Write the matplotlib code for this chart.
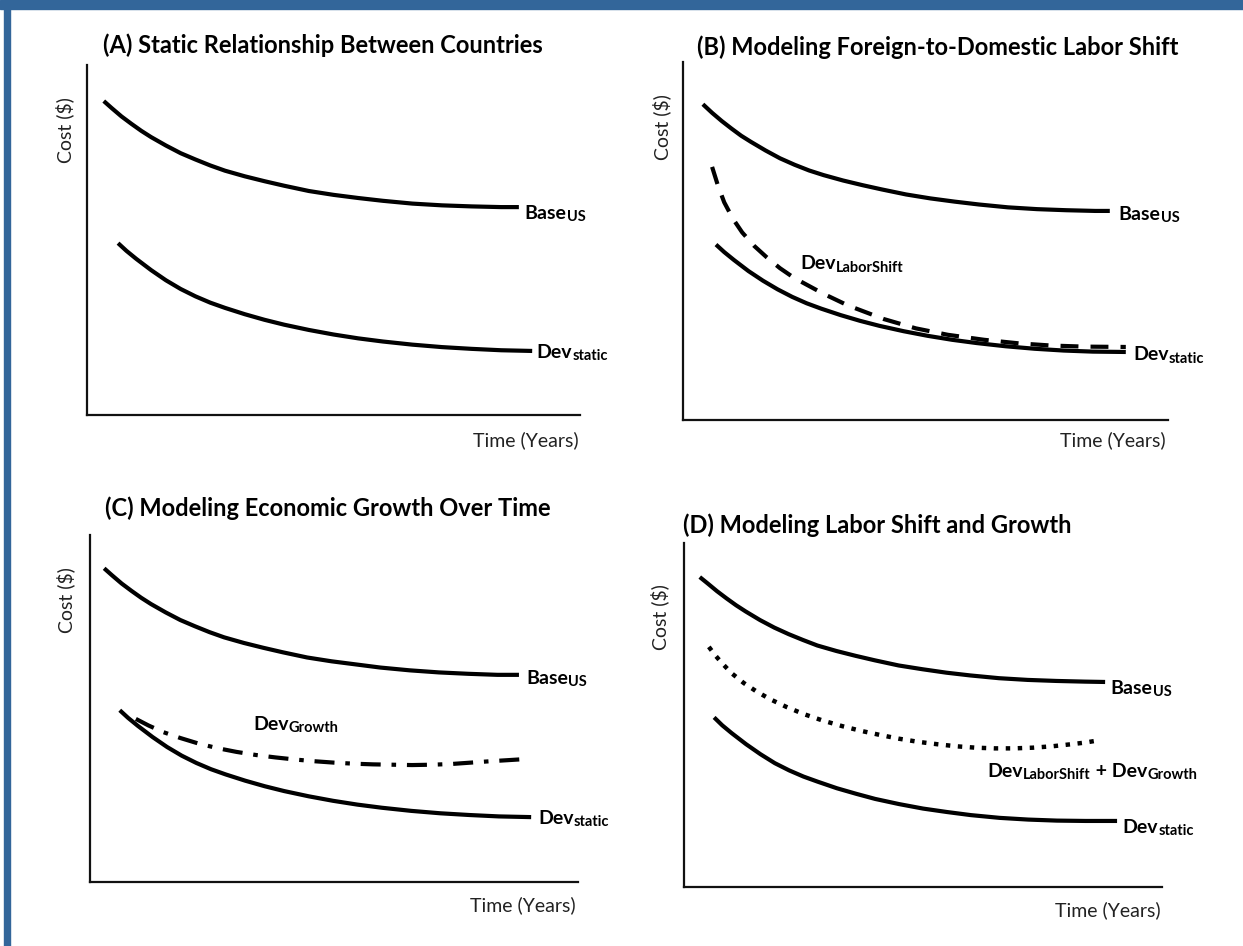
import matplotlib
matplotlib.use('Agg')
import matplotlib.pyplot as plt
from matplotlib.patches import Rectangle

plt.rcParams['font.family'] = ['Lato', 'DejaVu Sans']

# Curves; time and cost are both on a 0-100 scale of each panel
# Panel A
a_base_t = [3.4, 5, 7, 9, 11, 13, 16, 19, 22, 25, 28, 32, 36, 40, 45, 50, 55, 60, 66, 72, 78, 84, 87.6]
a_base_c = [89.7, 87.7, 85.3, 83.2, 81.2, 79.4, 77.0, 74.8, 73.0, 71.3, 69.8, 68.2, 66.8, 65.5,
            64.0, 62.9, 62.0, 61.2, 60.4, 59.9, 59.6, 59.4, 59.4]
a_dev_t = [6.3, 8, 10, 13, 16, 19, 22, 25, 28, 32, 36, 40, 45, 50, 55, 60, 66, 72, 78, 84, 90.3]
a_dev_c = [49.1, 46.9, 44.6, 41.4, 38.5, 36.0, 33.9, 32.1, 30.6, 28.8, 27.2, 25.8, 24.3, 23.0,
           21.9, 21.0, 20.1, 19.4, 18.9, 18.5, 18.3]

# Panel B
b_base_t = [4.1, 6, 8, 10, 12, 14, 17, 20, 23, 26, 29, 33, 37, 41, 46, 51, 56, 61, 67, 73, 79, 85, 88]
b_base_c = [88.2, 85.8, 83.5, 81.4, 79.4, 77.7, 75.3, 73.1, 71.3, 69.7, 68.4, 66.9, 65.6, 64.4,
            63.0, 61.9, 61.0, 60.2, 59.4, 58.9, 58.6, 58.4, 58.4]
b_shift_t = [6.0, 7.2, 8.5, 10.3, 12.2, 14.7, 17.3, 20, 22.9, 28.9, 34, 41.4, 48, 54.6, 62.1,
             69.3, 75.9, 82.7, 91.3]
b_shift_c = [70.7, 65.5, 60.8, 56.2, 52.4, 48.6, 45.4, 42.4, 39.7, 35.3, 32.0, 28.2, 25.6, 23.8,
             22.4, 21.4, 20.8, 20.5, 20.4]
b_dev_t = [6.8, 8.5, 10.5, 13.5, 16.5, 19.5, 22.5, 25.5, 28.5, 32.5, 36.5, 40.5, 45.5, 50.5,
           55.5, 60.5, 66.5, 72.5, 78.5, 84.5, 91.3]
b_dev_c = [49.0, 46.9, 44.7, 41.6, 38.9, 36.5, 34.4, 32.6, 31.1, 29.3, 27.7, 26.3, 24.8, 23.5,
           22.4, 21.5, 20.6, 19.9, 19.4, 19.1, 19.0]

# Panel C
c_base_t = [2.9, 4.5, 6.5, 8.5, 10.5, 12.5, 15.5, 18.5, 21.5, 24.5, 27.5, 31.5, 35.5, 39.5,
            44.5, 49.5, 54.5, 59.5, 65.5, 71.5, 77.5, 83.5, 87.9]
c_base_c = [90.4, 88.4, 86.0, 83.9, 81.9, 80.1, 77.7, 75.5, 73.7, 72.0, 70.5, 68.9, 67.5, 66.2,
            64.7, 63.6, 62.7, 61.8, 61.0, 60.4, 60.0, 59.7, 59.7]
c_growth_t = [9.4, 12, 15, 18.5, 22, 26, 30, 34, 38, 42, 46, 50, 54, 58, 62, 66, 70, 74, 78,
              82, 85.5, 88.9]
c_growth_c = [47.0, 45.1, 43.2, 41.5, 40.0, 38.6, 37.5, 36.6, 35.9, 35.3, 34.8, 34.4, 34.1, 33.9,
              33.8, 33.7, 33.8, 34.0, 34.4, 34.8, 35.1, 35.4]
c_dev_t = [6.1, 7.8, 9.8, 12.8, 15.8, 18.8, 21.8, 24.8, 27.8, 31.8, 35.8, 39.8, 44.8, 49.8,
           54.8, 59.8, 65.8, 71.8, 77.8, 83.8, 90.4]
c_dev_c = [49.5, 47.3, 45.0, 41.8, 38.9, 36.4, 34.3, 32.5, 31.0, 29.2, 27.6, 26.2, 24.7, 23.4,
           22.3, 21.4, 20.5, 19.8, 19.3, 18.9, 18.7]

# Panel D
d_base_t = [3.3, 4.9, 6.9, 8.9, 10.9, 12.9, 15.9, 18.9, 21.9, 24.9, 27.9, 31.9, 35.9, 39.9,
            44.9, 49.9, 54.9, 59.9, 65.9, 71.9, 77.9, 83.9, 88.1]
d_base_c = [90.1, 88.3, 86.0, 83.9, 81.9, 80.1, 77.6, 75.4, 73.5, 71.8, 70.2, 68.6, 67.2, 65.9,
            64.4, 63.3, 62.3, 61.5, 60.7, 60.2, 59.9, 59.7, 59.6]
d_both_t = [5.2, 6.5, 8, 10, 12.5, 15, 18, 21.5, 25, 29, 33, 37, 41, 45, 49, 53, 57, 61, 65,
            69, 73, 77, 81, 84, 87]
d_both_c = [69.8, 67.4, 65.0, 62.1, 59.3, 57.0, 54.6, 52.3, 50.3, 48.4, 46.8, 45.4, 44.2, 43.1,
            42.2, 41.5, 40.9, 40.5, 40.3, 40.3, 40.5, 40.9, 41.5, 42.0, 42.7]
d_dev_t = [6.3, 8, 10, 13, 16, 19, 22, 25, 28, 32, 36, 40, 45, 50, 55, 60, 66, 72, 78, 84, 90.6]
d_dev_c = [49.3, 47.0, 44.7, 41.5, 38.6, 36.0, 33.9, 32.1, 30.6, 28.7, 27.1, 25.6, 24.1, 22.8,
           21.8, 20.9, 20.1, 19.6, 19.3, 19.2, 19.2]

titles = ['(A) Static Relationship Between Countries',
          '(B) Modeling Foreign-to-Domestic Labor Shift',
          '(C) Modeling Economic Growth Over Time',
          '(D) Modeling Labor Shift and Growth']

# curve labels as (text, is_subscript) pieces
BASE = [('Base', False), ('US', True)]
DEV_STATIC = [('Dev', False), ('static', True)]
DEV_SHIFT = [('Dev', False), ('LaborShift', True)]
DEV_GROWTH = [('Dev', False), ('Growth', True)]
DEV_BOTH = [('Dev', False), ('LaborShift', True), (' + Dev', False), ('Growth', True)]

W, H = 1243, 946
BLUE = '#33669a'
fig = plt.figure(figsize=(W / 100, H / 100), dpi=100)

# blue frame of the original figure
fig.patches.append(Rectangle((0, 1 - 9 / H), 1, 9 / H, transform=fig.transFigure,
                             color=BLUE, zorder=10))
fig.patches.append(Rectangle((4 / W, 0), 6 / W, 1, transform=fig.transFigure,
                             color=BLUE, zorder=10))

LW = 3.0
SOLID = dict(color='black', lw=LW, solid_capstyle='butt')


def px_text(x, y, s, **kw):
    fig.text(x / W, 1 - y / H, s, **kw)


def make_panel(box, title, title_xy, ylab_xy, xlab_xy):
    left, top, right, bottom = box
    ax = fig.add_axes([left / W, 1 - bottom / H, (right - left) / W, (bottom - top) / H])
    ax.set_xlim(0, 100)
    ax.set_ylim(0, 100)
    for side in ['top', 'right']:
        ax.spines[side].set_visible(False)
    for side in ['left', 'bottom']:
        ax.spines[side].set_linewidth(1.6)
        ax.spines[side].set_color('#111111')
    ax.set_xticks([])
    ax.set_yticks([])
    px_text(title_xy[0], title_xy[1], title, fontsize=17, fontweight='bold',
            ha='left', va='center')
    px_text(ylab_xy[0], ylab_xy[1], 'Cost ($)', fontsize=14, rotation=90,
            ha='center', va='center', color='#222222')
    px_text(xlab_xy[0], xlab_xy[1], 'Time (Years)', fontsize=14,
            ha='right', va='center', color='#222222')
    return ax


def label(ax, x, y, parts):
    first = ax.text(x, y, parts[0][0], fontsize=14, fontweight='bold',
                    ha='left', va='center', clip_on=False)
    prev = first
    for s, sub in parts[1:]:
        prev = ax.annotate(s, xy=(1, 0), xycoords=(prev, first),
                           xytext=(0.2, -1.6 if sub else 0), textcoords='offset points',
                           fontsize=10.5 if sub else 14, fontweight='bold',
                           ha='left', va='bottom')


# (A)
ax = make_panel([87, 65, 580, 415], titles[0], (103, 45), (65, 130), (579, 440))
ax.plot(a_base_t, a_base_c, **SOLID)
ax.plot(a_dev_t, a_dev_c, **SOLID)
label(ax, 88.8, 57.6, BASE)
label(ax, 91.2, 18.0, DEV_STATIC)

# (B)
ax = make_panel([683, 62, 1168, 420], titles[1], (697, 47), (662, 127), (1166, 440))
ax.plot(b_base_t, b_base_c, **SOLID)
ax.plot(b_dev_t, b_dev_c, **SOLID)
ax.plot(b_shift_t, b_shift_c, color='black', lw=LW, dash_capstyle='butt',
        linestyle=(0, (4.3, 2.9)))
label(ax, 89.8, 57.4, BASE)
label(ax, 24.1, 43.6, DEV_SHIFT)
label(ax, 92.8, 18.2, DEV_STATIC)

# (C)
ax = make_panel([90, 535, 578, 882], titles[2], (105, 508), (66, 600), (576, 905))
ax.plot(c_base_t, c_base_c, **SOLID)
ax.plot(c_dev_t, c_dev_c, **SOLID)
ax.plot(c_growth_t, c_growth_c, color='black', lw=LW, dash_capstyle='butt',
        linestyle=(0, (4.8, 2.6, 1.1, 2.6)))
label(ax, 89.4, 58.7, BASE)
label(ax, 33.4, 45.4, DEV_GROWTH)
label(ax, 91.8, 18.4, DEV_STATIC)

# (D)
ax = make_panel([684, 543, 1162, 887], titles[3], (683, 525), (660, 617), (1161, 910))
ax.plot(d_base_t, d_base_c, **SOLID)
ax.plot(d_dev_t, d_dev_c, **SOLID)
ax.plot(d_both_t, d_both_c, color='black', lw=3.2, dash_capstyle='butt',
        linestyle=(0, (1.0, 1.7)))
label(ax, 89.3, 57.7, BASE)
label(ax, 63.4, 33.5, DEV_BOTH)
label(ax, 91.8, 17.4, DEV_STATIC)

fig.savefig('out.png', dpi=100, facecolor='white')
